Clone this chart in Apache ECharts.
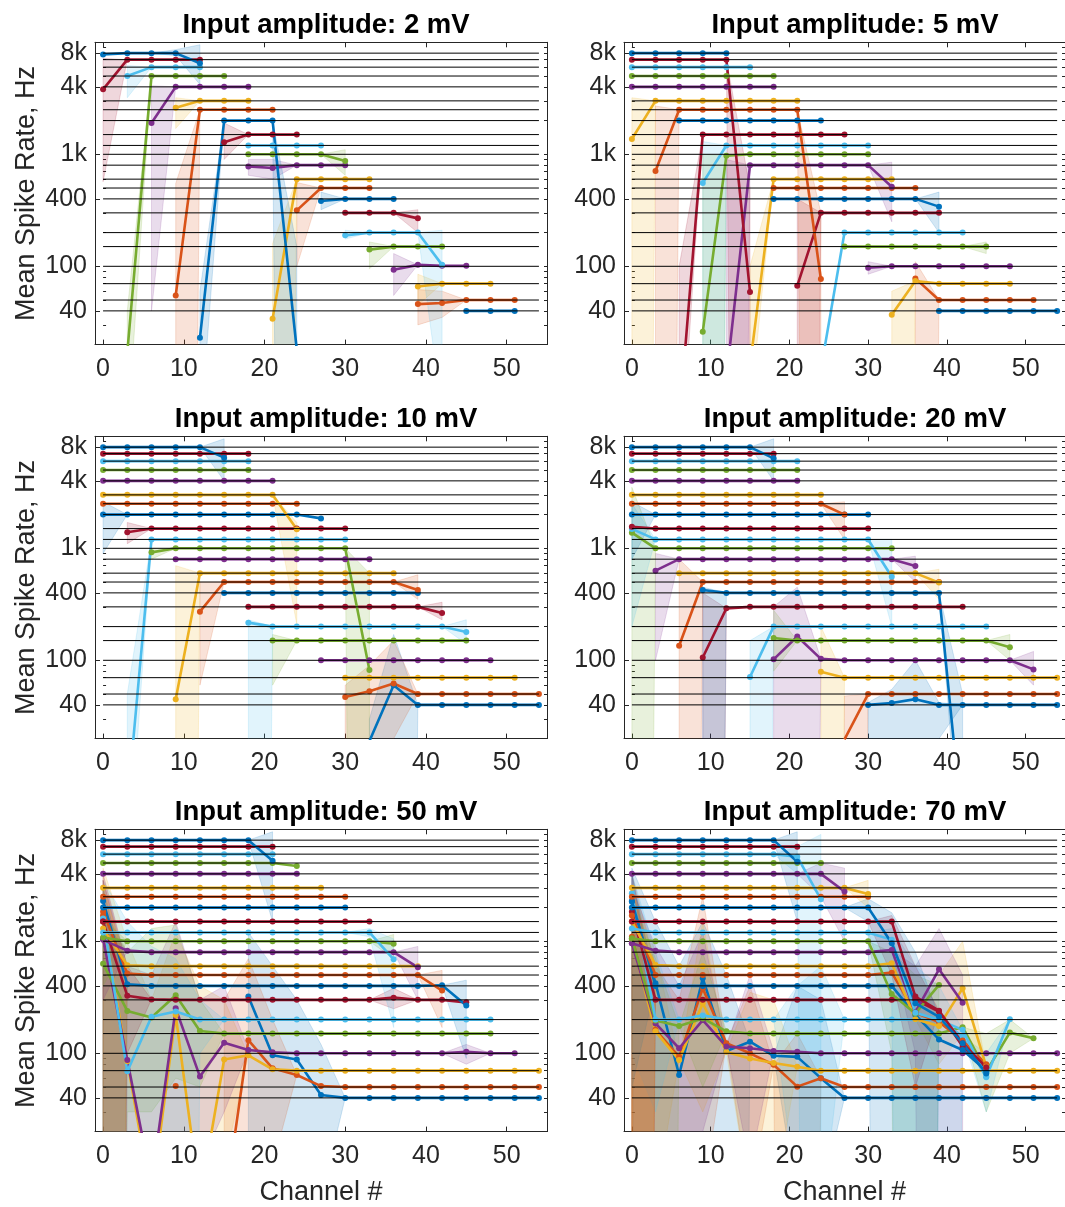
<!DOCTYPE html>
<html><head><meta charset="utf-8">
<script src="https://cdn.jsdelivr.net/npm/echarts@6/dist/echarts.min.js"></script>
<style>html,body{margin:0;padding:0;background:#fff;overflow:hidden}#c{width:1065px;height:1207px}</style>
</head><body><div id="c"></div>
<script>
const channels = [0,3,6,9,12,15,18,21,24,27,30,33,36,39,42,45,48,51,54];
const freqs = [40,50,70,100,150,200,300,400,500,600,800,1000,1200,1500,2000,2500,3000,4000,5000,6000,7000,8000];
const amplitudes = ['2 mV','5 mV','10 mV','20 mV','50 mV','70 mV'];
const xTicks = [0,10,20,30,40,50];
const yTickLabels = [40,100,400,1000,4000,8000];
const yMinorTicks = [20,30,50,60,70,80,90,200,300,500,600,700,800,900,2000,3000,5000,6000,7000,9000,10000];
const colors = ['#0072BD','#D95319','#EDB120','#7E2F8E','#77AC30','#4DBEEE','#A2142F'];

// Each row (one per frequency, 40 Hz ... 8000 Hz): [index of first channel, mean rate per channel...]
const rate_2mV = [
  [15, 40,40,40],
  [13, 46,47,50,50,50],
  [13, 66,70,70,70],
  [12, 93,103,101,101],
  [11, 141,150,150,150],
  [10, 189,200,200,200,103],
  [10, 300,300,300,268],
  [9, 383,400,400,400],
  [8, 316,500,500,500],
  [7, 34,600,600,600,600],
  [6, 780,755,800,800,800],
  [6, 1000,1000,1000,1000,870],
  [6, 1200,1200,1200,1200],
  [5, 1280,1500,1500,1500],
  [4, 23,2000,2000,2000,18],
  [3, 55,2500,2500,2500,2500],
  [3, 2600,3000,3000,3000],
  [2, 1900,4000,4000,4000,4000],
  [1, 17,5000,5000,5000,5000],
  [1, 5000,6000,6000,6000],
  [0, 3800,7000,7000,7000,7000],
  [0, 7800,8000,8000,8000,6500]
];
const rate_5mV = [
  [13, 40,40,40,40,40,40],
  [12, 78,50,50,50,50,50],
  [11, 37,74,70,70,70,70],
  [10, 97,100,100,100,100,100,100],
  [9, 150,150,150,150,150,150,150],
  [8, 12,200,200,200,200,200,200],
  [7, 67,300,300,300,300,300,300],
  [6, 400,400,400,400,400,400,400,341],
  [6, 500,500,500,500,500,500,500],
  [5, 13,600,600,600,600,600,600],
  [4, 10,800,800,800,800,800,800,514],
  [3, 26,970,1000,1000,1000,1000,1000,1000],
  [3, 555,1200,1200,1200,1200,1200,1200,1200],
  [2, 4,1500,1500,1500,1500,1500,1500,1500],
  [2, 2000,2000,2000,2000,2000,2000,2000],
  [1, 710,2500,2500,2500,2500,2500,2500,77],
  [0, 1370,3000,3000,3000,3000,3000,3000,3000],
  [0, 4000,4000,4000,4000,4000,4000,4000],
  [0, 5000,5000,5000,5000,5000,5000,5000],
  [0, 6000,6000,6000,6000,6000,6000],
  [0, 7000,7000,7000,7000,7000,59],
  [0, 8000,8000,8000,8000,8000]
];
const rate_10mV = [
  [11, 19,60,40,40,40,40,40,40],
  [10, 47,53,62,50,50,50,50,50,50],
  [10, 70,70,70,70,70,70,70,70],
  [9, 100,100,100,100,100,100,100,100],
  [7, 150,150,150,150,150,150,150,150,150],
  [6, 217,200,200,200,200,200,200,200,200,179],
  [6, 300,300,300,300,300,300,300,300,265],
  [5, 400,400,400,400,400,400,400,400,400],
  [4, 272,500,500,500,500,500,500,500,500,425],
  [3, 45,600,600,600,600,600,600,600,600,600],
  [3, 800,800,800,800,800,800,800,800,800],
  [2, 920,1000,1000,1000,1000,1000,1000,1000,1000,82],
  [1, 5,1200,1200,1200,1200,1200,1200,1200,1200,1200],
  [1, 1390,1500,1500,1500,1500,1500,1500,1500,1500,1500],
  [0, 2000,2000,2000,2000,2000,2000,2000,2000,2000,1850],
  [0, 2500,2500,2500,2500,2500,2500,2500,2500,2500],
  [0, 3000,3000,3000,3000,3000,3000,3000,3000,1480],
  [0, 4000,4000,4000,4000,4000,4000,4000,4000],
  [0, 5000,5000,5000,5000,5000,5000,5000],
  [0, 6000,6000,6000,6000,6000,6000,6000],
  [0, 7000,7000,7000,7000,7000,7000,7000],
  [0, 8000,8000,8000,8000,8000,6450]
];
const rate_20mV = [
  [10, 40,41.5,45,40,40,40,40,40,40],
  [9, 19.7,50,50,50,50,50,50,50,50,50],
  [8, 79,70,70,70,70,70,70,70,70,70,70],
  [6, 102,163,103,100,100,100,100,100,100,100,100,83],
  [6, 158,150,150,150,150,150,150,150,150,150,131],
  [5, 71,200,200,200,200,200,200,200,200,200,200],
  [3, 106,291,300,300,300,300,300,300,300,300,300,300],
  [3, 425,400,400,400,400,400,400,400,400,400,400,3],
  [2, 135,500,500,500,500,500,500,500,500,500,500,500],
  [2, 600,600,600,600,600,600,600,600,600,600,600,494],
  [1, 632,800,800,800,800,800,800,800,800,800,800,695],
  [0, 1380,1000,1000,1000,1000,1000,1000,1000,1000,1000,1000,1000],
  [0, 1490,1200,1200,1200,1200,1200,1200,1200,1200,1200,1200,558],
  [0, 1560,1500,1500,1500,1500,1500,1500,1500,1500,1500,1500],
  [0, 2000,2000,2000,2000,2000,2000,2000,2000,2000,2000,2000],
  [0, 2500,2500,2500,2500,2500,2500,2500,2500,2500,2000],
  [0, 3000,3000,3000,3000,3000,3000,3000,3000,3000],
  [0, 4000,4000,4000,4000,4000,4000,4000,4000],
  [0, 5000,5000,5000,5000,5000,5000,5000,5000],
  [0, 6000,6000,6000,6000,6000,6000,6000,6000],
  [0, 7000,7000,7000,7000,7000,7000,7000],
  [0, 8000,8000,8000,8000,8000,8000,6360]
];
const rate_50mV = [
  [6, 321,96,88,42.5,40,40,40,40,40,40,40,40,40],
  [0, 1700,null,null,51,null,4,131,73.5,64,51,50,50,50,50,50,50,50,50,50],
  [0, 1500,85,5,220,5,88,96,72,70,70,70,70,70,70,70,70,70,70,70],
  [0, 1060,87,7,252,62,124,107,102,100,100,100,100,100,100,100,103,100,100],
  [0, 632,239,209,330,158,150,150,150,150,150,150,150,150,150,150,150,150],
  [0, 1600,69,212,236,200,200,200,200,200,200,200,200,200,200,200,200,200],
  [0, 1500,327,303,300,300,300,300,300,300,300,300,300,314,300,300,285],
  [0, 2290,413,400,400,400,400,400,400,400,400,400,400,400,400,405,267],
  [0, 1840,515,500,500,500,500,500,500,500,500,500,500,500,500,363],
  [0, 1300,610,600,600,600,600,600,600,600,600,600,600,600,600],
  [0, 1030,825,800,800,800,800,800,800,800,800,800,800,800,586],
  [0, 1080,1000,1000,1000,1000,1000,1000,1000,1000,1000,1000,1000,950],
  [0, 1200,1200,1200,1200,1200,1200,1200,1200,1200,1200,1200,1200,691],
  [0, 1500,1500,1500,1500,1500,1500,1500,1500,1500,1500,1500,1500],
  [0, 2000,2000,2000,2000,2000,2000,2000,2000,2000,2000,2000],
  [0, 2500,2500,2500,2500,2500,2500,2500,2500,2500,2500,2500],
  [0, 3000,3000,3000,3000,3000,3000,3000,3000,3000,3000],
  [0, 4000,4000,4000,4000,4000,4000,4000,4000,4000],
  [0, 5000,5000,5000,5000,5000,5000,5000,5000,4700],
  [0, 6000,6000,6000,6000,6000,6000,6000,6000],
  [0, 7000,7000,7000,7000,7000,7000,7000,7000],
  [0, 8000,8000,8000,8000,8000,8000,8000,5250]
];
const rate_70mV = [
  [0, 2260,422,64,467,105,127,95,93,60,40,40,40,40,40,40,40,40,40,40],
  [0, 1100,162,93,380,123,100,79,50.4,60,50,50,50,50,50,50,50,50,50,50],
  [0, 1030,157,87,280,103,90,82,76,70,70,70,70,70,70,70,70,70,70,70],
  [0, 960,185,111,198,115,111,105,103,100,100,100,100,100,100,100,100,100,100,100],
  [0, 1060,196,175,205,157,150,150,150,150,150,150,150,150,150,171,69,153,136],
  [0, 2680,200,200,218,200,200,200,200,200,200,200,200,200,200,141,61,201],
  [0, 1840,300,300,300,300,300,300,300,300,300,300,300,300,236,115,74],
  [0, 2290,400,400,400,400,400,400,400,400,400,400,400,220,133,107,70],
  [0, 1700,500,500,500,500,500,500,500,500,500,500,525,230,190,130,80],
  [0, 1500,615,600,600,600,600,600,600,600,600,600,636,201,175,380,76],
  [0, 960,825,800,800,800,800,800,800,800,800,800,837,233,562,283],
  [0, 1060,1000,1000,1000,1000,1000,1000,1000,1000,1000,1000,339,227,408],
  [0, 1300,1200,1200,1200,1200,1200,1200,1200,1200,1200,1200,1030,230,199,162,62],
  [0, 1500,1500,1500,1500,1500,1500,1500,1500,1500,1500,1500,1500,321,240,123,75],
  [0, 2000,2000,2000,2000,2000,2000,2000,2000,2000,2000,2000,960,280,212,123,66],
  [0, 2500,2500,2500,2500,2500,2500,2500,2500,2500,2500,2500],
  [0, 3000,3000,3000,3000,3000,3000,3000,3000,3000,3000,2650],
  [0, 4000,4000,4000,4000,4000,4000,4000,4000,4000,2780],
  [0, 5000,5000,5000,5000,5000,5000,5000,5000,5000],
  [0, 6000,6000,6000,6000,6000,6000,6000,5700,2370],
  [0, 7000,7000,7000,7000,7000,7000,7000,7000],
  [0, 8000,8000,8000,8000,8000,8000,8000,5140]
];

// Spread bands: [frequency index, channel index, lower, upper]  (1e-20: lower bound off the axis)
const band_2mV = [
  [20,0,570,7200],[21,3,7600,8600],[21,4,4200,9500],[19,1,3200,6200],[18,1,3,40],
  [17,2,40,4100],[16,3,1700,3200],[15,3,1e-20,550],[14,4,3,60],[14,8,1e-20,150],[9,7,1e-20,160],
  [13,5,900,1900],[11,10,650,1100],[10,6,650,900],[10,7,600,900],[8,8,100,560],
  [7,9,320,460],[6,13,200,320],[5,10,175,210],[5,14,5,210],[4,11,95,165],
  [3,12,55,130],[2,13,45,85],[1,13,30,62],[1,14,35,60]
];
const band_5mV = [
  [16,0,1e-20,3200],[15,1,1e-20,2700],[15,8,1e-20,300],[12,3,1e-20,1300],[11,3,1e-20,1000],
  [10,4,1e-20,900],[10,11,250,850],[20,5,1e-20,500],[9,5,5,100],[13,2,1,100],
  [6,7,1e-20,400],[2,11,1e-20,60],[1,12,1e-20,110],[7,13,200,460],[3,10,85,110],[4,15,130,165]
];
const band_10mV = [
  [21,5,4000,9500],[14,0,900,2600],[13,1,1100,1700],[12,1,1,50],[16,8,210,1700],
  [9,3,1e-20,700],[8,4,60,500],[5,6,1e-20,230],[4,7,60,170],[11,11,1e-20,600],[11,2,800,1000],
  [0,11,1e-20,30],[0,12,1e-20,170],[1,10,1e-20,60],[1,11,1e-20,90],[1,12,20,150],
  [8,13,350,580],[6,14,230,330],[5,15,140,230]
];
const band_20mV = [
  [11,0,1e-20,3500],[12,0,200,2500],[14,0,800,2600],[10,1,100,900],[8,2,1e-20,800],
  [7,3,1e-20,450],[6,3,1e-20,400],[5,5,1e-20,150],[3,6,1e-20,300],[3,7,1e-20,450],[4,6,80,280],
  [2,8,1e-20,200],[1,9,1e-20,48],[0,10,1e-20,42],[0,11,1e-20,55],[0,12,1e-20,100],[0,13,20,42],
  [15,9,1200,2600],[21,6,4000,9500],[12,11,200,1200],[10,12,500,850],[9,13,350,650],
  [7,14,1,50],[4,16,100,170],[3,17,60,120]
];
const band_50mV = [
  [2,0,1e-20,4500],[2,1,1,1000],[2,2,1e-20,300],[2,3,5,1200],[2,4,1e-20,400],[2,5,10,300],
  [3,0,1e-20,3500],[3,1,1,600],[3,2,1e-20,500],[3,3,10,1500],[3,4,10,300],[3,5,30,400],
  [4,0,1e-20,2000],[4,1,30,800],[4,2,30,1300],[4,3,60,1400],[4,4,50,300],
  [5,0,1e-20,3500],[5,1,1,1500],[5,2,1e-20,900],[5,3,1e-20,700],[5,4,100,300],
  [6,0,1e-20,4000],[6,1,100,600],[7,0,1e-20,3000],[8,0,1e-20,3500],[9,0,1e-20,3000],
  [10,0,300,1500],[11,0,400,1600],
  [1,5,1e-20,300],[1,6,5,700],[1,7,10,200],
  [0,6,5,1200],[0,7,5,600],[0,8,10,300],[0,9,5,120],
  [21,7,1500,9500],[12,12,170,1050],[12,11,1100,1300],[11,12,700,1150],
  [10,13,300,900],[8,14,170,550],[7,15,90,450],[6,12,250,380],[3,15,80,120]
];
const band_70mV = [
  [0,0,600,4500],[0,1,1e-20,1500],[0,2,1e-20,600],[0,3,20,1500],[0,4,1e-20,500],[0,7,5,400],[0,8,5,300],
  [1,0,1e-20,4000],[1,1,1e-20,600],[1,2,1,300],[1,3,5,2500],[1,5,5,400],[1,7,1e-20,150],
  [2,0,1e-20,3000],[2,1,5,800],[2,3,30,1500],[2,5,5,350],[2,6,5,300],
  [3,0,1e-20,3000],[3,1,10,900],[3,2,10,400],[3,3,20,1200],[3,5,10,500],
  [4,0,1e-20,2500],[4,1,1e-20,700],[4,3,50,800],
  [5,0,100,4000],[5,1,30,800],[5,7,5,400],[5,8,3,600],
  [6,0,1e-20,4000],[7,0,50,4000],[8,0,1e-20,3000],[9,0,1e-20,3000],
  [14,10,1500,2400],[14,11,1e-20,1800],[14,12,1e-20,800],
  [13,11,500,1700],[13,12,50,600],[12,11,300,1300],[12,12,1e-20,600],[12,13,1e-20,400],
  [10,12,100,600],[10,13,1e-20,1300],[10,14,1e-20,500],[9,13,80,500],[9,14,150,1000],
  [11,11,100,800],[11,12,1e-20,500],[5,15,30,100],[4,15,30,150],[4,16,100,200],
  [17,8,2500,5000],[17,9,1000,4500],[16,10,2000,3500],[19,7,4000,7000],[19,8,1e-20,9000],[21,7,1500,9500]
];

const RATES = [rate_2mV, rate_5mV, rate_10mV, rate_20mV, rate_50mV, rate_70mV];
const BANDS = [band_2mV, band_5mV, band_10mV, band_20mV, band_50mV, band_70mV];

const FONT = 'Liberation Sans, Arial, Helvetica, sans-serif';
const AX = '#262626';
const gridLefts = [95, 624];
const gridTops = [42.3, 436.3, 829.3];
const GW = 452, GH = 302.3;

function rgba(hex, a) {
  const n = parseInt(hex.slice(1), 16);
  return 'rgba(' + (n >> 16) + ',' + ((n >> 8) & 255) + ',' + (n & 255) + ',' + a + ')';
}
function fmtRate(v) {
  const r = Math.round(v);
  return r >= 1000 ? (r / 1000) + 'k' : String(r);
}

const grids = [], xAxes = [], yAxes = [], series = [], titles = [];
for (let p = 0; p < 6; p++) {
  const col = p % 2, row = Math.floor(p / 2);
  grids.push({ left: gridLefts[col], top: gridTops[row], width: GW, height: GH });
  titles.push({
    text: 'Input amplitude: ' + amplitudes[p],
    left: gridLefts[col] + GW / 2, top: gridTops[row] - 36, textAlign: 'center',
    textStyle: { fontFamily: FONT, fontSize: 27.5, fontWeight: 'bold', color: '#000' }
  });
  xAxes.push({
    gridIndex: p, type: 'value', position: 'bottom', min: -1, max: 55,
    axisLine: { show: true, onZero: false, lineStyle: { color: AX, width: 1 } },
    axisTick: { show: true, inside: true, length: 5, customValues: xTicks, lineStyle: { color: AX } },
    axisLabel: { show: true, customValues: xTicks, fontSize: 25, color: AX, margin: 12, fontFamily: FONT },
    splitLine: { show: false },
    name: row === 2 ? 'Channel #' : '', nameLocation: 'middle', nameGap: 47,
    nameTextStyle: { fontSize: 27, color: AX, fontFamily: FONT }
  });
  xAxes.push({
    gridIndex: p, type: 'value', position: 'top', min: -1, max: 55,
    axisLine: { show: true, onZero: false, lineStyle: { color: AX, width: 1 } },
    axisTick: { show: true, inside: true, length: 5, customValues: xTicks, lineStyle: { color: AX } },
    axisLabel: { show: false }, splitLine: { show: false }
  });
  yAxes.push({
    gridIndex: p, type: 'log', logBase: 10, position: 'left', min: 20, max: 10000,
    axisLine: { show: true, onZero: false, lineStyle: { color: AX, width: 1 } },
    axisTick: { show: true, inside: true, length: 5, customValues: yTickLabels, lineStyle: { color: AX } },
    axisLabel: { show: true, customValues: yTickLabels, formatter: fmtRate, fontSize: 25, color: AX, margin: 8, fontFamily: FONT },
    splitLine: { show: false }, minorTick: { show: false },
    name: col === 0 ? 'Mean Spike Rate, Hz' : '', nameLocation: 'middle', nameGap: 55,
    nameTextStyle: { fontSize: 27, color: AX, fontFamily: FONT }
  });
  yAxes.push({
    gridIndex: p, type: 'log', logBase: 10, position: 'left', min: 20, max: 10000,
    axisLine: { show: false },
    axisTick: { show: true, inside: true, length: 3, customValues: yMinorTicks, lineStyle: { color: AX } },
    axisLabel: { show: false }, splitLine: { show: false }
  });
  yAxes.push({
    gridIndex: p, type: 'log', logBase: 10, position: 'right', min: 20, max: 10000,
    axisLine: { show: true, onZero: false, lineStyle: { color: AX, width: 1 } },
    axisTick: { show: true, inside: true, length: 3, customValues: yMinorTicks.concat(yTickLabels), lineStyle: { color: AX } },
    axisLabel: { show: false }, splitLine: { show: false }
  });

  const rates = RATES[p], bands = BANDS[p];
  const xi = 2 * p, yi = 3 * p;

  // spread bands
  const bandIdx = [];
  rates.forEach((r, fi) => { if (bands.some(b => b[0] === fi)) bandIdx.push(fi); });
  series.push({
    type: 'custom', coordinateSystem: 'cartesian2d', xAxisIndex: xi, yAxisIndex: yi, z: 1,
    silent: true,
    data: bandIdx.map(fi => [channels[rates[fi][0]], freqs[fi], fi]),
    encode: { x: 0, y: 1 },
    renderItem: function (params, api) {
      const fi = api.value(2);
      const r = rates[fi];
      const start = r[0], vals = r.slice(1);
      const bm = {};
      bands.forEach(b => { if (b[0] === fi) bm[b[1]] = b; });
      const c = colors[fi % 7];
      const children = [];
      let seg = [];
      const flush = () => {
        if (seg.length > 1) {
          const up = seg.map(s => api.coord([channels[s.ci], s.hi]));
          const dn = seg.slice().reverse().map(s => api.coord([channels[s.ci], s.lo]));
          children.push({ type: 'polygon', shape: { points: up.concat(dn) },
            style: { fill: rgba(c, 0.17), stroke: rgba(c, 0.22), lineWidth: 0.8 } });
        }
        seg = [];
      };
      vals.forEach((v, k) => {
        const ci = start + k;
        if (v == null) { flush(); return; }
        const b = bm[ci];
        seg.push({ ci: ci, lo: b ? b[2] : v, hi: b ? b[3] : v });
      });
      flush();
      const cs = params.coordSys;
      return { type: 'group', children: children,
        clipPath: { type: 'rect', shape: { x: cs.x, y: cs.y, width: cs.width, height: cs.height } } };
    }
  });

  // mean spike rate lines
  rates.forEach((r, fi) => {
    const start = r[0];
    series.push({
      type: 'line', xAxisIndex: xi, yAxisIndex: yi, z: 2,
      data: r.slice(1).map((v, k) => [channels[start + k], v]),
      symbol: 'circle', symbolSize: 6, showSymbol: true, connectNulls: false,
      lineStyle: { color: colors[fi % 7], width: 2.6 },
      itemStyle: { color: colors[fi % 7] },
      silent: true, clip: true
    });
  });

  // reference lines at each input frequency
  const refData = [];
  freqs.forEach(f => {
    refData.push([channels[0], f], [channels[channels.length - 1], f], [channels[channels.length - 1], null]);
  });
  series.push({
    type: 'line', xAxisIndex: xi, yAxisIndex: yi, z: 3, data: refData,
    symbol: 'none', connectNulls: false, silent: true,
    lineStyle: { color: '#000', width: 1 }
  });
}

const chart = echarts.init(document.getElementById('c'), null, { renderer: 'canvas' });
chart.setOption({
  animation: false,
  backgroundColor: '#fff',
  title: titles,
  grid: grids,
  xAxis: xAxes,
  yAxis: yAxes,
  series: series
});
</script>
</body></html>
